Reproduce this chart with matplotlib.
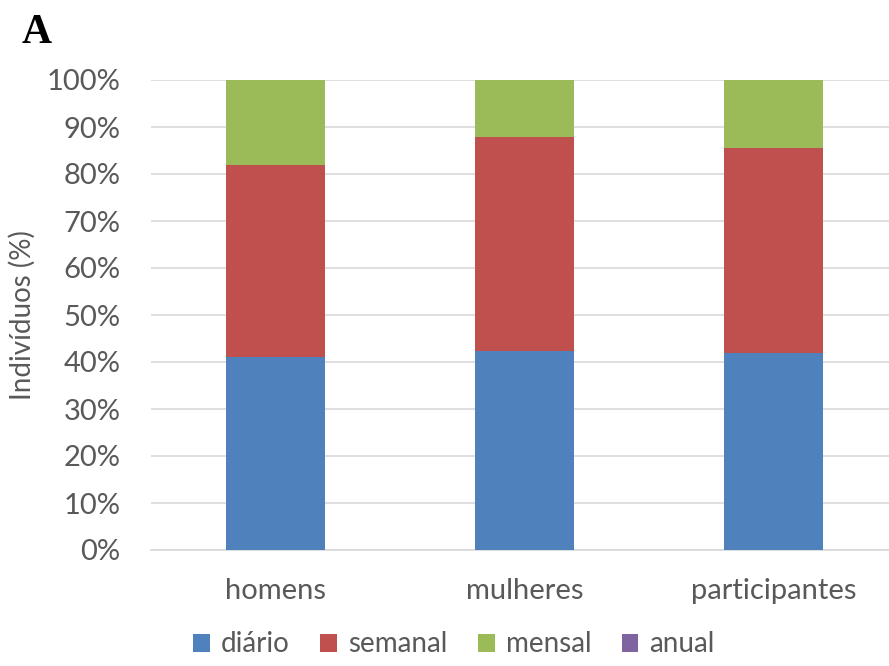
import matplotlib.pyplot as plt
import numpy as np

categories = ['homens', 'mulheres', 'participantes']
series = ['diário', 'semanal', 'mensal', 'anual']
diario = [41.0, 42.3, 41.9]
semanal = [41.0, 45.5, 43.7]
mensal = [18.0, 12.2, 14.4]
anual = [0.0, 0.0, 0.0]
colors = ['#4F81BD', '#C0504D', '#9BBB59', '#8064A2']

plt.rcParams['font.family'] = ['Lato', 'DejaVu Sans']

fig = plt.figure(figsize=(8.89, 6.66), dpi=100)
ax = fig.add_axes([151 / 889, 116 / 666, 747 / 889, 470 / 666])

x = np.arange(len(categories))
bottom = np.zeros(len(categories))
for name, vals, c in zip(series, [diario, semanal, mensal, anual], colors):
    ax.bar(x, vals, width=0.4, bottom=bottom, color=c, label=name, zorder=3)
    bottom += np.array(vals)

ax.set_xlim(-0.5, 2.5)
ax.set_ylim(0, 100)
ax.set_yticks(range(0, 101, 10))
ax.set_yticklabels([f'{v}%' for v in range(0, 101, 10)])
ax.set_xticks(x)
ax.set_xticklabels(categories)
ax.grid(axis='y', color='#D9D9D9', linewidth=1.2, zorder=0)
for s in ['top', 'right', 'left']:
    ax.spines[s].set_visible(False)
ax.spines['bottom'].set_color('#D9D9D9')
ax.spines['bottom'].set_linewidth(1.2)
ax.tick_params(axis='both', length=0, labelsize=21, labelcolor='#595959')
ax.tick_params(axis='y', pad=22)
ax.tick_params(axis='x', pad=20)
ax.set_ylabel('Indivíduos (%)', fontsize=20, color='#595959', labelpad=8)

ax.legend(loc='upper center', bbox_to_anchor=((454 - 151) / 747, -0.132), ncol=4,
          frameon=False, fontsize=20, handlelength=0.6, handleheight=0.6,
          handletextpad=0.4, columnspacing=1.1, labelcolor='#595959',
          borderpad=0.2)

fig.text(22 / 889, 1 - 43 / 666, 'A', fontsize=30, fontweight='bold',
         family='Liberation Serif')

fig.savefig('out.png', dpi=100)
